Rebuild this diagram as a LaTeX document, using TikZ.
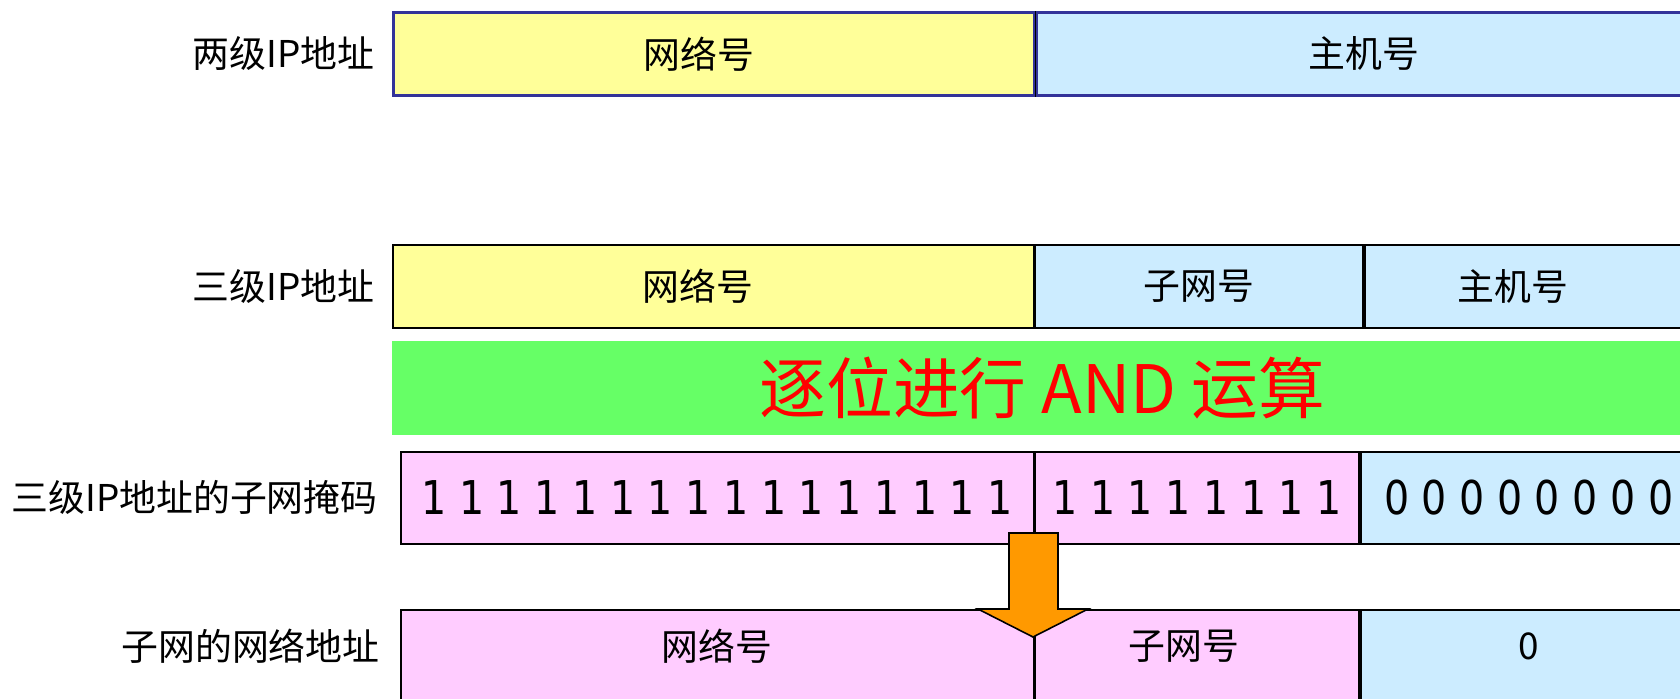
\documentclass[tikz,border=0pt]{standalone}
\usepackage{fontspec}
\setmainfont{Noto Sans CJK SC}
\newfontfamily\digitfont[FakeStretch=0.85]{DejaVu Sans}
\usetikzlibrary{positioning}
\definecolor{netyellow}{HTML}{FFFF99}
\definecolor{hostblue}{HTML}{CCECFF}
\definecolor{maskpink}{HTML}{FFCCFF}
\definecolor{andgreen}{HTML}{66FF66}
\definecolor{arroworange}{HTML}{FF9900}
\definecolor{frameblue}{HTML}{333399}
\tikzset{
  field/.style={draw, line width=0.9pt, anchor=north west, inner sep=0pt, minimum height=1.66cm, font=\fontsize{21}{25}\selectfont},
  netfield/.style={field, fill=netyellow},
  hostfield/.style={field, fill=hostblue},
  maskfield/.style={field, fill=maskpink},
  fieldtext/.style={inner sep=0pt, font=\fontsize{21}{25}\selectfont},
  bits/.style={font=\digitfont\fontsize{26.5}{30}\selectfont},
  rowlabel/.style={inner sep=0pt, anchor=east, font=\fontsize{21}{25}\selectfont},
  andband/.style={fill=andgreen, anchor=north west, inner sep=0pt, minimum width=26cm, minimum height=1.88cm, text=red, font=\fontsize{38}{44}\selectfont},
  bigarrow/.style={draw, fill=arroworange, line width=0.9pt, line join=miter}
}

\begin{document}
\begin{tikzpicture}[x=0.02cm, y=-0.02cm]
  \useasboundingbox (0,0) rectangle (1680,698);
  \clip (0,0) rectangle (1680,698);
  % two-level address
  \node[netfield, draw=frameblue, line width=1.5pt, minimum width=12.82cm] (net1) at (392,11) {};
  \node[hostfield, draw=frameblue, line width=1.5pt, minimum width=13.1cm] (host1) at (net1.north east) {主机号};
  \draw[line width=0.9pt] (net1.north east) -- (net1.south east);
  \node[fieldtext] (net1t) at ([xshift=-0.3cm]net1.center) {网络号};
  \node[rowlabel, left=0.34cm of net1] (lbl1) {两级IP地址};
  % three-level address
  \node[netfield, minimum width=12.82cm] (net2) at (392,244) {};
  \node[hostfield, minimum width=6.56cm] (sub2) at (net2.north east) {子网号};
  \node[hostfield, minimum width=6.64cm] (host2) at (sub2.north east) {};
  \node[fieldtext] (net2t) at ([xshift=-0.3cm]net2.center) {网络号};
  \node[fieldtext] (host2t) at ([xshift=-0.36cm]host2.center) {主机号};
  \node[rowlabel, left=0.34cm of net2] (lbl2) {三级IP地址};
  % AND band
  \node[andband] (band) at (392,341) {逐位进行 AND 运算};
  % subnet mask
  \node[maskfield, minimum height=1.84cm, minimum width=12.66cm, bits] (mask1) at (400,451) {1 1 1 1 1 1 1 1 1 1 1 1 1 1 1 1};
  \node[maskfield, minimum height=1.84cm, minimum width=6.48cm, bits] (mask2) at (mask1.north east) {1 1 1 1 1 1 1 1};
  \node[hostfield, minimum height=1.84cm, minimum width=6.72cm, bits] (mask3) at (mask2.north east) {0 0 0 0 0 0 0 0};
  \node[rowlabel, left=0.44cm of mask1] (lbl3) {三级IP地址的子网掩码};
  % subnet network address
  \node[maskfield, minimum height=2.4cm, minimum width=12.66cm] (net4) at (400,609) {};
  \node[maskfield, minimum height=2.4cm, minimum width=6.48cm] (sub4) at (net4.north east) {};
  \node[hostfield, minimum height=2.4cm, minimum width=6.72cm] (host4) at (sub4.north east) {};
  \node[fieldtext] (net4t) at ([yshift=-0.74cm]net4.north) {网络号};
  \node[fieldtext] (sub4t) at ([xshift=-0.26cm, yshift=-0.74cm]sub4.north) {子网号};
  \node[fieldtext] (host4t) at ([yshift=-0.74cm]host4.north) {0};
  \node[rowlabel] (lbl4) at (380,646) {子网的网络地址};
  % arrow
  \draw[bigarrow] (1009,533) -- (1058,533) -- (1058,609) -- (1088,609) -- (1033,637) -- (978,609) -- (1009,609) -- cycle;
\end{tikzpicture}
\end{document}
